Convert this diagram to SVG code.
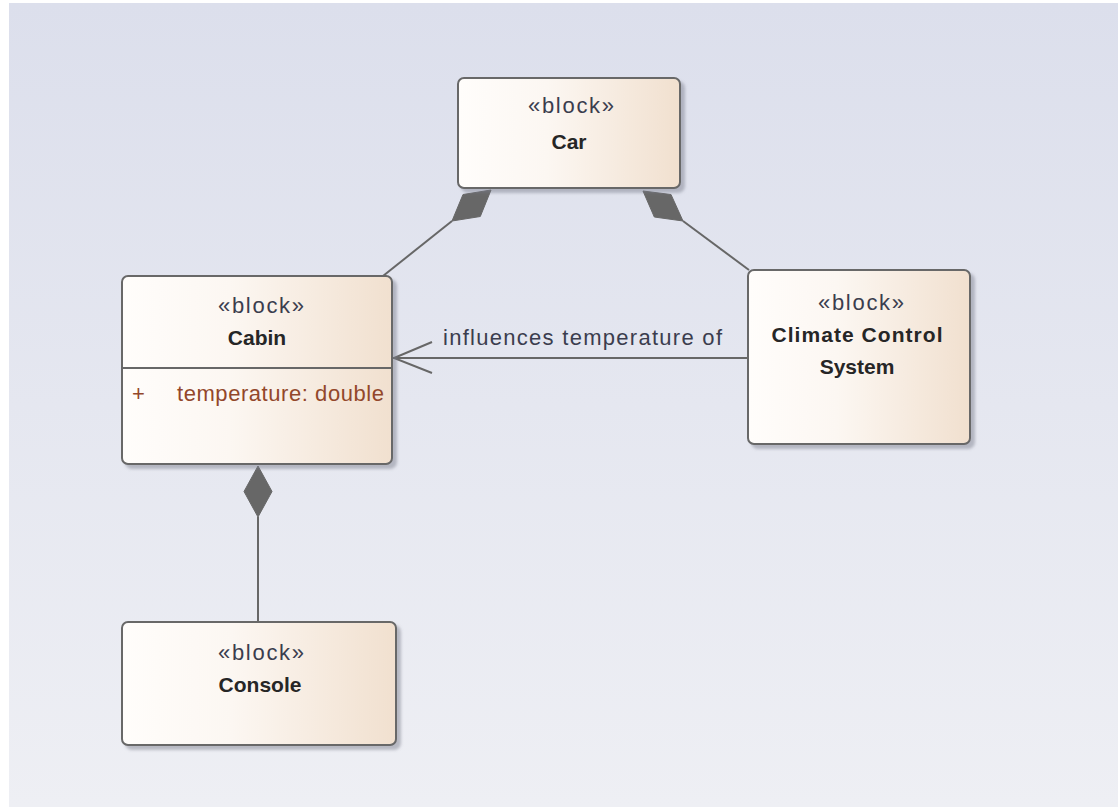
<svg xmlns="http://www.w3.org/2000/svg" width="1118" height="807" viewBox="0 0 1118 807">
  <defs>
    <linearGradient id="bg" x1="0" y1="0" x2="0" y2="1">
      <stop offset="0" stop-color="#dcdfec"/>
      <stop offset="1" stop-color="#eeeff4"/>
    </linearGradient>
    <linearGradient id="blockFill" x1="0" y1="0" x2="1" y2="0">
      <stop offset="0" stop-color="#fffdfb"/>
      <stop offset="0.4" stop-color="#fcf7f2"/>
      <stop offset="1" stop-color="#f1e0cf"/>
    </linearGradient>
    <filter id="shadow" x="-10%" y="-10%" width="130%" height="130%">
      <feDropShadow dx="4" dy="4" stdDeviation="1.5" flood-color="#767888" flood-opacity="0.45"/>
    </filter>
    <style>
      .block { fill: url(#blockFill); stroke: #676767; stroke-width: 2; filter: url(#shadow); }
      .stereo { font-family: "Liberation Sans", Arial, sans-serif; font-size: 22px; fill: #3b3d4e; text-anchor: middle; }
      .name { font-family: "Liberation Sans", Arial, sans-serif; font-size: 21px; font-weight: bold; fill: #262626; text-anchor: middle; }
      .attr { font-family: "Liberation Sans", Arial, sans-serif; font-size: 22px; fill: #93472a; }
      .label { font-family: "Liberation Sans", Arial, sans-serif; font-size: 22px; fill: #3b3d4e; }
      .conn { stroke: #676767; stroke-width: 2; fill: none; }
      .diamond { fill: #676767; stroke: #676767; stroke-width: 1; stroke-linejoin: round; }
    </style>
  </defs>

  <!-- canvas -->
  <rect x="0" y="0" width="1118" height="807" fill="#ffffff"/>
  <rect x="9" y="3" width="1109" height="804" fill="url(#bg)"/>

  <!-- connectors -->
  <g id="connectors">
    <!-- Car composes Cabin -->
    <line class="conn" x1="383" y1="276" x2="452" y2="221"/>
    <polygon class="diamond" points="491,190 480.3,216.5 452,221 463,194.5"/>
    <!-- Car composes Climate Control System -->
    <line class="conn" x1="683" y1="221" x2="749" y2="270"/>
    <polygon class="diamond" points="643,191 671,194.5 683,221 654.3,217"/>
    <!-- Cabin composes Console -->
    <line class="conn" x1="258" y1="517" x2="258" y2="622"/>
    <polygon class="diamond" points="258,466 272,491.5 258,517 244,491.5"/>
    <!-- Climate Control System influences Cabin -->
    <line class="conn" x1="393" y1="358" x2="748" y2="358"/>
    <polyline class="conn" points="432,342 394,358 432,373"/>
    <text class="label" x="443" y="345" textLength="279" lengthAdjust="spacing">influences temperature of</text>
  </g>

  <!-- nodes -->
  <g id="car">
    <rect class="block" x="458" y="78" width="222" height="110" rx="6"/>
    <text class="stereo" x="571" y="113" textLength="86" lengthAdjust="spacing">«block»</text>
    <text class="name" x="569" y="149">Car</text>
  </g>

  <g id="cabin">
    <rect class="block" x="122" y="276" width="270" height="188" rx="6"/>
    <line x1="122" y1="368" x2="392" y2="368" stroke="#676767" stroke-width="2"/>
    <text class="stereo" x="261" y="313" textLength="86" lengthAdjust="spacing">«block»</text>
    <text class="name" x="257" y="345">Cabin</text>
    <text class="attr" x="132" y="401">+</text>
    <text class="attr" x="177" y="401" textLength="207" lengthAdjust="spacing">temperature: double</text>
  </g>

  <g id="climate-control-system">
    <rect class="block" x="748" y="270" width="222" height="174" rx="6"/>
    <text class="stereo" x="861" y="310" textLength="86" lengthAdjust="spacing">«block»</text>
    <text class="name" x="857" y="342" textLength="171" lengthAdjust="spacing">Climate Control</text>
    <text class="name" x="857" y="374">System</text>
  </g>

  <g id="console">
    <rect class="block" x="122" y="622" width="274" height="123" rx="6"/>
    <text class="stereo" x="261" y="660" textLength="86" lengthAdjust="spacing">«block»</text>
    <text class="name" x="260" y="692">Console</text>
  </g>
</svg>
